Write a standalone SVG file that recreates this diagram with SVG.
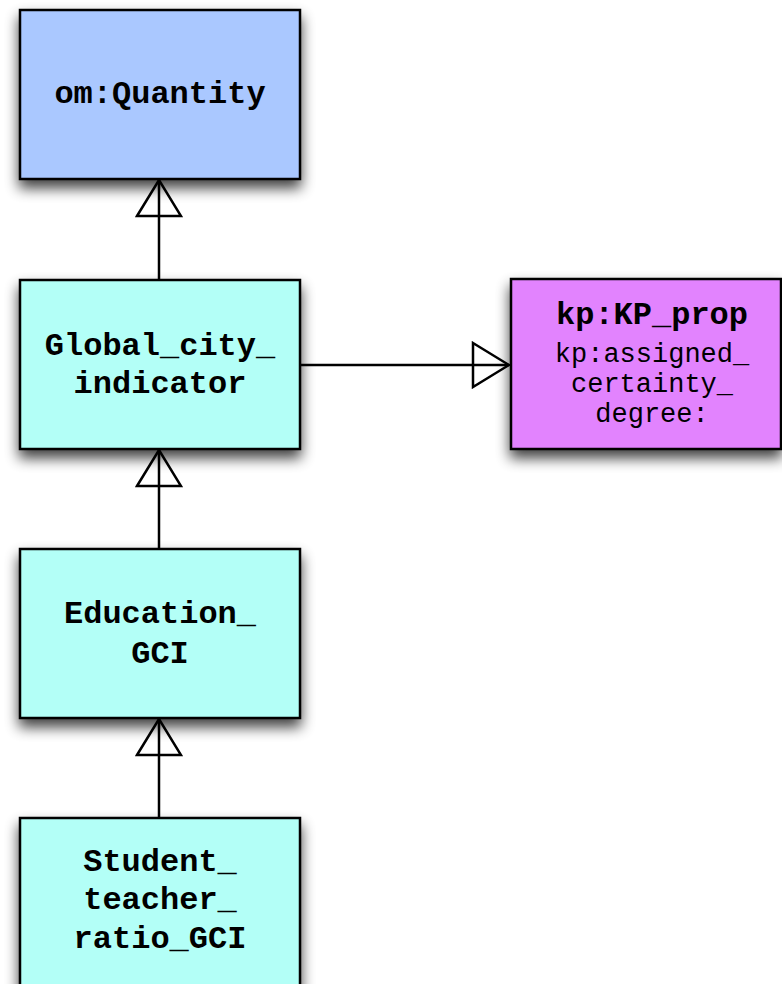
<svg xmlns="http://www.w3.org/2000/svg" width="782" height="984" viewBox="0 0 782 984">
  <defs>
    <filter id="shadow" x="-20%" y="-20%" width="140%" height="160%">
      <feGaussianBlur in="SourceAlpha" stdDeviation="7"/>
      <feOffset dx="0" dy="8" result="blur"/>
      <feComponentTransfer><feFuncA type="linear" slope="0.75"/></feComponentTransfer>
      <feMerge><feMergeNode/><feMergeNode in="SourceGraphic"/></feMerge>
    </filter>
    <marker id="inherit" viewBox="0 0 40 48" refX="38" refY="24" markerWidth="40" markerHeight="48" markerUnits="userSpaceOnUse" orient="auto">
      <path d="M2,2 L38,24 L2,46 Z" fill="none" stroke="#000" stroke-width="2.5"/>
    </marker>
  </defs>
  <style>
    .box { stroke: #000; stroke-width: 2.5; filter: url(#shadow); }
    .blue { fill: #aac8ff; }
    .cyan { fill: #b3fff7; }
    .pink { fill: #e283fe; }
    .title { font-family: "Liberation Mono", "DejaVu Sans Mono", monospace; font-weight: bold; font-size: 32px; text-anchor: middle; fill: #000; }
    .attr { font-family: "Liberation Mono", "DejaVu Sans Mono", monospace; font-size: 27px; text-anchor: middle; fill: #000; }
    .edge { stroke: #000; stroke-width: 2.5; fill: none; marker-end: url(#inherit); }
  </style>

  <g id="om-quantity">
    <rect class="box blue" x="20" y="10" width="280" height="169"/>
    <text class="title" x="160" y="103">om:Quantity</text>
  </g>

  <g id="global-city-indicator">
    <rect class="box cyan" x="20" y="280" width="280" height="169"/>
    <text class="title" x="160" y="355">Global_city_</text>
    <text class="title" x="160" y="393">indicator</text>
  </g>

  <g id="kp-prop">
    <rect class="box pink" x="511" y="279" width="270" height="170"/>
    <text class="title" x="652" y="324">kp:KP_prop</text>
    <text class="attr" x="652" y="362">kp:assigned_</text>
    <text class="attr" x="652" y="392">certainty_</text>
    <text class="attr" x="652" y="422">degree:</text>
  </g>

  <g id="education-gci">
    <rect class="box cyan" x="20" y="549" width="280" height="169"/>
    <text class="title" x="160" y="623">Education_</text>
    <text class="title" x="160" y="663">GCI</text>
  </g>

  <g id="student-teacher-ratio-gci">
    <rect class="box cyan" x="20" y="818" width="280" height="190"/>
    <text class="title" x="160" y="871">Student_</text>
    <text class="title" x="160" y="909">teacher_</text>
    <text class="title" x="160" y="948">ratio_GCI</text>
  </g>

  <g id="connectors">
    <path class="edge" d="M159,280 L159,180"/>
    <path class="edge" d="M159,549 L159,450"/>
    <path class="edge" d="M159,818 L159,719"/>
    <path class="edge" d="M301,365 L509,365"/>
  </g>
</svg>
